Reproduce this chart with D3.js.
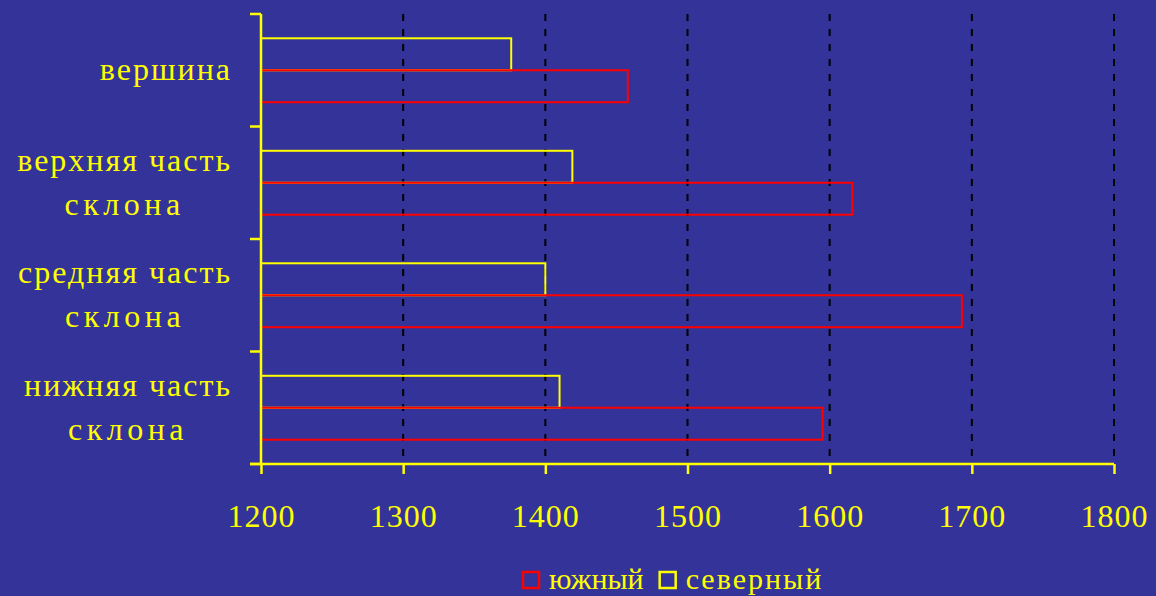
<!DOCTYPE html>
<html>
<head>
<meta charset="utf-8">
<script src="https://cdn.jsdelivr.net/npm/d3@7"></script>
</head>
<body style="margin:0;background:#333399">
<div id="chart"></div>
<script>
// categories, top to bottom
var categories = ["вершина", "верхняя часть склона", "средняя часть склона", "нижняя часть склона"];
var labelLines = [["вершина"], ["верхняя часть", "склона"], ["средняя часть", "склона"], ["нижняя часть", "склона"]];
var seriesNames = ["северный", "южный"];
var northValues = [1376, 1419, 1400, 1410];   // северный
var southValues = [1458, 1616, 1693, 1595];   // южный
var xTicks = [1200, 1300, 1400, 1500, 1600, 1700, 1800];
var legendOrder = ["южный", "северный"];

var width = 1156, height = 596;
var margin = {top: 14, right: 42, bottom: 132, left: 261};
var FONT = "Liberation Serif";
var YELLOW = "#ffff00";

var colors = {"северный": "#ffff00", "южный": "#ff0000"};

var rows = categories.map(function (c, i) {
    return {cat: c, lines: labelLines[i], "северный": northValues[i], "южный": southValues[i]};
});

var svg = d3.select("#chart").append("svg")
    .attr("width", width)
    .attr("height", height);

svg.append("rect").attr("width", width).attr("height", height).attr("fill", "#333399");

var g = svg.append("g").attr("transform", "translate(" + margin.left + "," + margin.top + ")");

var iw = width - margin.left - margin.right,   // 853
    ih = height - margin.top - margin.bottom;  // 450

var x = d3.scaleLinear().domain([1200, 1800]).range([0, iw]);
var y = d3.scaleBand().domain(categories).range([0, ih]).padding(0);
var ySub = d3.scaleBand().domain(seriesNames).range([0, y.bandwidth()]).paddingInner(0).paddingOuter(0.76);

// dashed grid
g.append("g").selectAll("line")
    .data(xTicks.slice(1))
    .enter().append("line")
    .attr("x1", function (d) { return x(d); })
    .attr("x2", function (d) { return x(d); })
    .attr("y1", 0).attr("y2", ih)
    .attr("stroke", "#000")
    .attr("stroke-width", 2)
    .attr("stroke-dasharray", "7,8");

// bars (outline only)
g.append("g").selectAll("g")
    .data(rows)
    .enter().append("g")
    .attr("transform", function (d) { return "translate(0," + y(d.cat) + ")"; })
    .selectAll("rect")
    .data(function (d) { return seriesNames.map(function (s) { return {key: s, value: d[s]}; }); })
    .enter().append("rect")
    .attr("x", x(1200))
    .attr("y", function (d) { return ySub(d.key); })
    .attr("width", function (d) { return x(d.value) - x(1200); })
    .attr("height", ySub.bandwidth())
    .attr("fill", "none")
    .attr("stroke", function (d) { return colors[d.key]; })
    .attr("stroke-width", 2);

// x axis
var xAxis = g.append("g")
    .attr("transform", "translate(0," + ih + ")")
    .call(d3.axisBottom(x).tickValues(xTicks).tickSize(10).tickFormat(d3.format("d")));
xAxis.attr("font-family", null);
xAxis.select(".domain").attr("stroke", YELLOW).attr("stroke-width", 2.5).attr("d", "M-11,0H" + iw);
xAxis.selectAll(".tick line").attr("stroke", YELLOW).attr("stroke-width", 2.5);
xAxis.selectAll(".tick text")
    .attr("y", 63).attr("dy", 0)
    .style("font-family", FONT)
    .style("font-size", "32px")
    .style("letter-spacing", "1px")
    .attr("fill", YELLOW);

// y axis: ticks at band boundaries
var yEdges = categories.map(function (c) { return y(c); }).concat([ih]);
var yAxis = g.append("g");
yAxis.append("line")
    .attr("x1", 0).attr("x2", 0).attr("y1", 0).attr("y2", ih)
    .attr("stroke", YELLOW).attr("stroke-width", 2.5);
yAxis.selectAll(".ytick")
    .data(yEdges)
    .enter().append("line")
    .attr("class", "ytick")
    .attr("x1", -11).attr("x2", 0)
    .attr("y1", function (d) { return d; })
    .attr("y2", function (d) { return d; })
    .attr("stroke", YELLOW).attr("stroke-width", 2.5);

// category labels: centered block, right-aligned to axis
var labelRight = -29;
var lineGap = 44;
rows.forEach(function (d) {
    var cy = y(d.cat) + y.bandwidth() / 2;
    var lg = g.append("g");
    var texts = d.lines.map(function (line, i) {
        return lg.append("text")
            .style("font-family", FONT)
            .style("font-size", "32px")
            .style("letter-spacing", line === "склона" ? "4.5px" : "2px")
            .attr("fill", YELLOW)
            .attr("text-anchor", "middle")
            .attr("y", cy + 10 + (i - (d.lines.length - 1) / 2) * lineGap)
            .text(line);
    });
    var maxW = d3.max(texts, function (t) { return t.node().getComputedTextLength(); });
    texts.forEach(function (t) { t.attr("x", labelRight - maxW / 2); });
});

// legend
var legend = svg.append("g");
var lx = 523, ly = 589;
legendOrder.forEach(function (s) {
    legend.append("rect")
        .attr("x", lx).attr("y", ly - 17)
        .attr("width", 16).attr("height", 16)
        .attr("fill", "none")
        .attr("stroke", colors[s])
        .attr("stroke-width", 2.5);
    var t = legend.append("text")
        .attr("x", lx + 26).attr("y", ly)
        .style("font-family", FONT)
        .style("font-size", "30px")
        .style("letter-spacing", s === "северный" ? "2px" : "0px")
        .attr("fill", YELLOW)
        .text(s);
    lx += 26 + t.node().getComputedTextLength() + 16;
});
</script>
</body>
</html>
